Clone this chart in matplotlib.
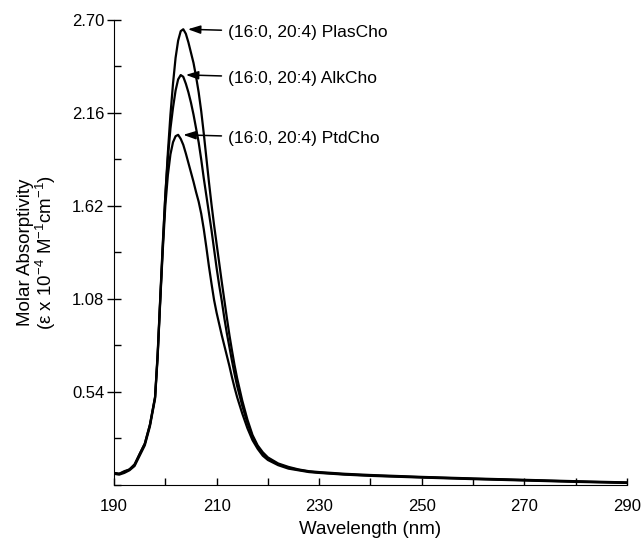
import matplotlib
matplotlib.use("Agg")
import matplotlib.pyplot as plt
from matplotlib.ticker import MultipleLocator

plt.rcParams["font.family"] = ["Liberation Sans", "DejaVu Sans"]
plt.rcParams["mathtext.fontset"] = "custom"
plt.rcParams["mathtext.rm"] = "Liberation Sans"
plt.rcParams["mathtext.it"] = "Liberation Sans:italic"

# wavelength grid (nm) shared by the three spectra
wavelength = [190, 191, 192, 193, 194, 195, 196, 197, 198, 198.5, 199, 199.5,
              200, 200.5, 201, 201.5, 202, 202.5, 203, 203.5, 204, 204.5,
              205, 205.5, 206, 206.5, 207, 207.5, 208, 208.5, 209, 209.5,
              210, 210.5, 211, 211.5, 212, 212.5, 213, 213.5, 214, 215, 216,
              217, 218, 219, 220, 222, 224, 226, 228, 230, 235, 240, 250,
              260, 270, 280, 290]

# molar absorptivity (x 10^-4 M^-1 cm^-1)
plascho = [0.07, 0.065, 0.08, 0.09, 0.12, 0.18, 0.24, 0.35, 0.51, 0.75, 1.07, 1.38,
           1.68, 1.93, 2.15, 2.33, 2.48, 2.58, 2.635, 2.646, 2.62, 2.57,
           2.51, 2.45, 2.37, 2.28, 2.17, 2.04, 1.90, 1.76, 1.63, 1.51,
           1.40, 1.29, 1.18, 1.075, 0.97, 0.87, 0.78, 0.695, 0.62, 0.49, 0.38,
           0.29, 0.23, 0.19, 0.16, 0.125, 0.105, 0.09, 0.08, 0.075, 0.065, 0.058, 0.047,
           0.038, 0.03, 0.022, 0.015]

alkcho = [0.07, 0.065, 0.075, 0.09, 0.115, 0.18, 0.24, 0.35, 0.51, 0.76, 1.08, 1.40,
          1.68, 1.90, 2.07, 2.19, 2.29, 2.355, 2.38, 2.37, 2.33, 2.28,
          2.22, 2.15, 2.07, 1.99, 1.89, 1.78, 1.68, 1.58, 1.48, 1.37,
          1.26, 1.16, 1.07, 0.97, 0.88, 0.80, 0.72, 0.645, 0.575, 0.46, 0.36,
          0.28, 0.22, 0.18, 0.155, 0.12, 0.10, 0.088, 0.078, 0.072, 0.062, 0.055, 0.045,
          0.036, 0.028, 0.02, 0.013]

ptdcho = [0.065, 0.06, 0.07, 0.085, 0.11, 0.17, 0.23, 0.34, 0.50, 0.74, 1.06, 1.36,
          1.62, 1.80, 1.92, 1.99, 2.025, 2.033, 2.01, 1.975, 1.925, 1.87,
          1.815, 1.76, 1.70, 1.645, 1.575, 1.485, 1.38, 1.27, 1.17, 1.075,
          1.00, 0.935, 0.87, 0.81, 0.75, 0.69, 0.625, 0.565, 0.51, 0.415, 0.33,
          0.26, 0.21, 0.17, 0.145, 0.115, 0.095, 0.085, 0.075, 0.07, 0.06, 0.053, 0.043,
          0.034, 0.026, 0.018, 0.012]

labels = ["(16:0, 20:4) PlasCho", "(16:0, 20:4) AlkCho", "(16:0, 20:4) PtdCho"]
peak_wl = [203.5, 203.1, 202.6]
peak_val = [2.646, 2.381, 2.033]

y_ticks = [0.54, 1.08, 1.62, 2.16, 2.70]
x_ticks = [190, 210, 230, 250, 270, 290]

fig = plt.figure(figsize=(6.42, 5.42), dpi=100)
ax = fig.add_axes([0.1776, 0.1052, 0.799, 0.858])

for series in [plascho, alkcho, ptdcho]:
    ax.plot(wavelength, series, color="black", linewidth=1.6)

# arrows pointing to the peaks
for label, wl, val in zip(labels, peak_wl, peak_val):
    ax.annotate(
        label,
        xy=(wl + 0.9, val),
        xytext=(212.3, val - 0.02),
        ha="left",
        va="center",
        fontsize=12.5,
        arrowprops=dict(arrowstyle="-|>,head_length=0.6,head_width=0.2",
                        color="black", lw=1.1, shrinkA=3, shrinkB=0)
    )

ax.set_xlim(190, 290)
ax.set_ylim(0, 2.70)
ax.set_xticks(x_ticks)
ax.set_yticks(y_ticks)
ax.set_yticklabels([f"{v:.2f}" for v in y_ticks])
ax.xaxis.set_minor_locator(MultipleLocator(10))
ax.yaxis.set_minor_locator(MultipleLocator(0.27))

ax.spines["top"].set_visible(False)
ax.spines["right"].set_visible(False)
ax.tick_params(axis="x", which="both", direction="in", length=5, width=1,
               labelsize=12, pad=10)
ax.tick_params(axis="y", which="major", direction="inout", length=10, width=1,
               labelsize=12, pad=2)
ax.tick_params(axis="y", which="minor", direction="in", length=5, width=1)

ax.set_xlabel("Wavelength (nm)", fontsize=13.5, labelpad=5)
ax.set_ylabel("Molar Absorptivity\n(ε x 10$^{-4}$ M$^{-1}$cm$^{-1}$)",
              fontsize=13.5, labelpad=10, linespacing=1.0)

plt.savefig("out.png", dpi=100)
